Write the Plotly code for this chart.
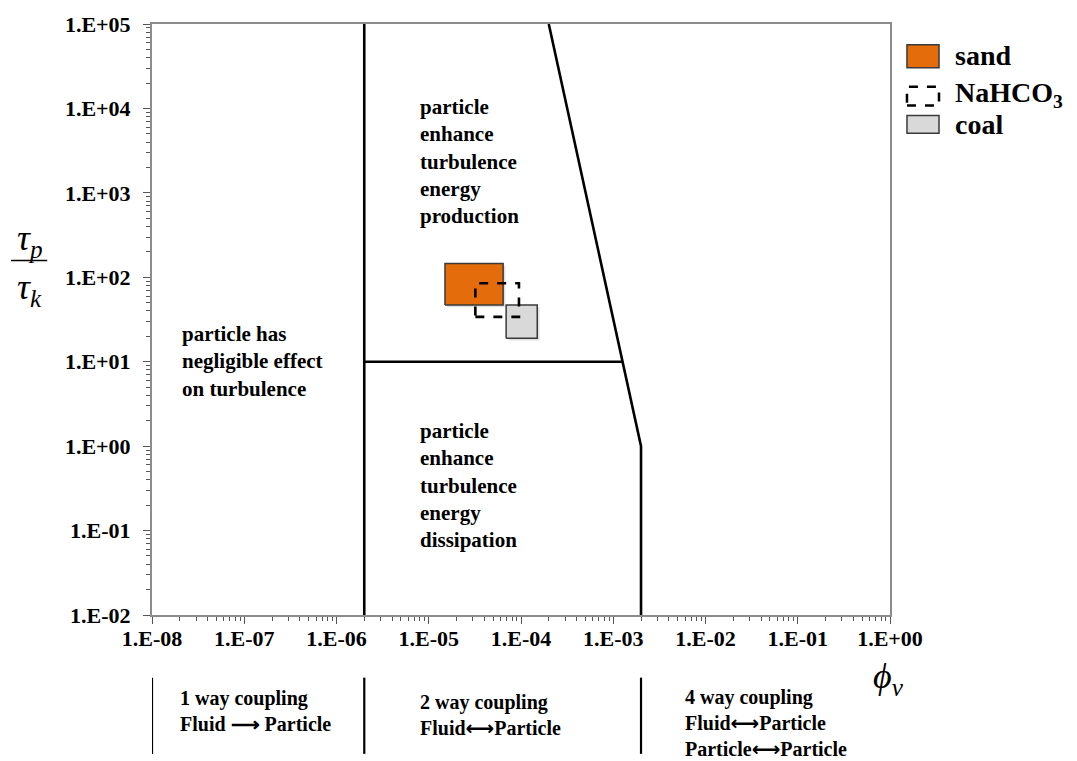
import numpy as np
import plotly.graph_objects as go

# ---- data -------------------------------------------------------------
# regime boundaries (volume fraction phi_v, time-scale ratio tau_p/tau_k)
left_bound_x = [2e-6, 2e-6]
left_bound_y = [1e-2, 1e5]
mid_bound_x = [2e-6, 1.26e-3]
mid_bound_y = [10, 10]
right_bound_x = [2e-4, 2e-3, 2e-3]
right_bound_y = [1e5, 1, 1e-2]

# material ranges (x range, y range)
sand_x = [1.5e-5, 6.4e-5]
sand_y = [47, 146]
nahco3_x = [3.2e-5, 9.5e-5]
nahco3_y = [34, 85]
coal_x = [6.9e-5, 1.5e-4]
coal_y = [19, 47]

x_ticks = [1e-8, 1e-7, 1e-6, 1e-5, 1e-4, 1e-3, 1e-2, 1e-1, 1e0]
x_ticktext = ["1.E-08", "1.E-07", "1.E-06", "1.E-05", "1.E-04",
              "1.E-03", "1.E-02", "1.E-01", "1.E+00"]
y_ticks = [1e-2, 1e-1, 1e0, 1e1, 1e2, 1e3, 1e4, 1e5]
y_ticktext = ["1.E-02", "1.E-01", "1.E+00", "1.E+01", "1.E+02",
              "1.E+03", "1.E+04", "1.E+05"]

FONT = "Liberation Serif"
ARROW2 = '<span style="font-family:DejaVu Sans;font-size:20px">⟷</span>'


def minor_vals(lo, hi):
    vals = []
    for e in range(lo, hi):
        for m in range(2, 10):
            vals.append(m * 10.0 ** e)
    return vals


def rect(xr, yr):
    return ([xr[0], xr[1], xr[1], xr[0], xr[0]],
            [yr[0], yr[0], yr[1], yr[1], yr[0]])


def shadow(xr, yr, fx=1.06, fy=0.94):
    # soft drop shadow, offset a few pixels right/down
    return rect([xr[0] * fx, xr[1] * fx], [yr[0] * fy, yr[1] * fy])


fig = go.Figure()

# boundaries
for bx, by in [(left_bound_x, left_bound_y), (mid_bound_x, mid_bound_y),
               (right_bound_x, right_bound_y)]:
    fig.add_trace(go.Scatter(x=bx, y=by, mode="lines",
                             line=dict(color="black", width=2.6),
                             hoverinfo="skip", showlegend=False))

# material boxes with faint shadows
for xr, yr in [(sand_x, sand_y), (coal_x, coal_y)]:
    hx, hy = shadow(xr, yr)
    fig.add_trace(go.Scatter(x=hx, y=hy, mode="lines", fill="toself",
                             fillcolor="rgba(0,0,0,0.12)",
                             line=dict(color="rgba(0,0,0,0)", width=0),
                             hoverinfo="skip", showlegend=False))
sx, sy = rect(sand_x, sand_y)
fig.add_trace(go.Scatter(x=sx, y=sy, mode="lines", fill="toself",
                         fillcolor="#E46C0A",
                         line=dict(color="#3a3a3a", width=1.5),
                         name="sand", showlegend=False))
cx, cy = rect(coal_x, coal_y)
fig.add_trace(go.Scatter(x=cx, y=cy, mode="lines", fill="toself",
                         fillcolor="#D9D9D9",
                         line=dict(color="#3a3a3a", width=1.5),
                         name="coal", showlegend=False))
nx, ny = rect(nahco3_x, nahco3_y)
fig.add_trace(go.Scatter(x=nx, y=ny, mode="lines",
                         line=dict(color="black", width=2.6, dash="dash"),
                         name="NaHCO3", showlegend=False))

shapes = []
annotations = []

# legend swatches and labels
leg_x0, leg_x1 = 1.023, 1.0664
shapes.append(dict(type="rect", xref="paper", yref="paper",
                   x0=leg_x0, x1=leg_x1, y0=0.926, y1=0.9647,
                   fillcolor="#E46C0A", line=dict(color="#3a3a3a", width=1.5)))
shapes.append(dict(type="rect", xref="paper", yref="paper",
                   x0=leg_x0, x1=leg_x1, y0=0.862, y1=0.894,
                   fillcolor="rgba(0,0,0,0)",
                   line=dict(color="black", width=2.5, dash="dash")))
shapes.append(dict(type="rect", xref="paper", yref="paper",
                   x0=leg_x0, x1=leg_x1, y0=0.815, y1=0.845,
                   fillcolor="#D9D9D9", line=dict(color="#3a3a3a", width=1.5)))
for txt, yy in [("sand", 0.946), ("NaHCO<sub>3</sub>", 0.880), ("coal", 0.830)]:
    annotations.append(dict(text="<b>%s</b>" % txt, xref="paper", yref="paper",
                            x=1.086, y=yy, xanchor="left", yanchor="middle",
                            showarrow=False,
                            font=dict(family=FONT, size=28, color="black")))

# region labels inside the plot (log coordinates)
region_font = dict(family=FONT, size=21, color="black")
annotations.append(dict(text="<b>particle<br>enhance<br>turbulence<br>energy<br>production</b>",
                        xref="x", yref="y", x=-5.116, y=4.18,
                        xanchor="left", yanchor="top", align="left",
                        showarrow=False, font=region_font))
annotations.append(dict(text="<b>particle<br>enhance<br>turbulence<br>energy<br>dissipation</b>",
                        xref="x", yref="y", x=-5.116, y=0.35,
                        xanchor="left", yanchor="top", align="left",
                        showarrow=False, font=region_font))
annotations.append(dict(text="<b>particle has<br>negligible effect<br>on turbulence</b>",
                        xref="x", yref="y", x=-7.70, y=1.49,
                        xanchor="left", yanchor="top", align="left",
                        showarrow=False, font=region_font))

# coupling regimes below the axis
for xv in [1e-8, 2e-6, 2e-3]:
    shapes.append(dict(type="line", xref="x", yref="paper",
                       x0=xv, x1=xv, y0=-0.106, y1=-0.235,
                       line=dict(color="black", width=2.2)))
coup_font = dict(family=FONT, size=20, color="black")
annotations.append(dict(text="<b>1 way coupling<br>Fluid ⟶ Particle</b>",
                        xref="x", yref="paper", x=-7.72, y=-0.118,
                        xanchor="left", yanchor="top", align="left",
                        showarrow=False, font=coup_font))
annotations.append(dict(text="<b>2 way coupling<br>Fluid%sParticle</b>" % ARROW2,
                        xref="x", yref="paper", x=-5.116, y=-0.126,
                        xanchor="left", yanchor="top", align="left",
                        showarrow=False, font=coup_font))
annotations.append(dict(text="<b>4 way coupling<br>Fluid%sParticle<br>Particle%sParticle</b>"
                        % (ARROW2, ARROW2),
                        xref="x", yref="paper", x=-2.244, y=-0.116,
                        xanchor="left", yanchor="top", align="left",
                        showarrow=False, font=coup_font))

# axis titles
math_font = dict(family=FONT, size=36, color="black")
annotations.append(dict(text="<i>τ<sub>p</sub></i>", xref="paper", yref="paper",
                        x=-0.166, y=0.633, xanchor="center", yanchor="middle",
                        showarrow=False, font=math_font))
shapes.append(dict(type="line", xref="paper", yref="paper",
                   x0=-0.191, x1=-0.142, y0=0.600, y1=0.600,
                   line=dict(color="black", width=1.5)))
annotations.append(dict(text="<i>τ<sub>k</sub></i>", xref="paper", yref="paper",
                        x=-0.166, y=0.550, xanchor="center", yanchor="middle",
                        showarrow=False, font=math_font))
annotations.append(dict(text="<i>ϕ<sub>v</sub></i>", xref="paper", yref="paper",
                        x=0.998, y=-0.108, xanchor="center", yanchor="middle",
                        showarrow=False, font=math_font))

axis_common = dict(
    showgrid=False, zeroline=False, showline=True, mirror=True,
    linecolor="#8c8c8c", linewidth=2,
    ticks="outside", ticklen=7, tickwidth=1.3, tickcolor="#555555",
    tickfont=dict(family=FONT, size=22, color="black"),
)

fig.update_xaxes(type="log", range=[-8, 0], tickmode="array",
                 tickvals=x_ticks, ticktext=["<b>%s</b>" % t for t in x_ticktext],
                 ticklabelstandoff=-4,
                 minor=dict(tickmode="array", tickvals=minor_vals(-8, 0),
                            ticks="outside", ticklen=4, tickwidth=1,
                            tickcolor="#555555", showgrid=False),
                 **axis_common)
fig.update_yaxes(type="log", range=[-2, 5], tickmode="array",
                 tickvals=y_ticks, ticktext=["<b>%s</b>" % t for t in y_ticktext],
                 ticklabelstandoff=8,
                 minor=dict(tickmode="array", tickvals=minor_vals(-2, 5),
                            ticks="outside", ticklen=4, tickwidth=1,
                            tickcolor="#555555", showgrid=False),
                 **axis_common)

fig.update_layout(
    width=1077, height=761,
    margin=dict(l=152, r=187, t=20, b=146),
    paper_bgcolor="white", plot_bgcolor="white",
    showlegend=False,
    shapes=shapes, annotations=annotations,
)

fig.write_html("out.html")
